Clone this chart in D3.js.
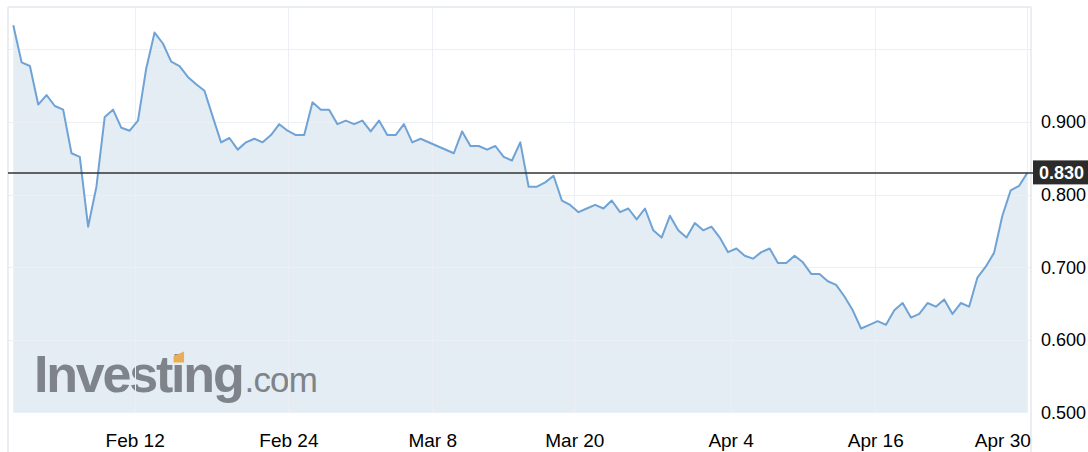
<!DOCTYPE html>
<html>
<head>
<meta charset="utf-8">
<script src="https://cdnjs.cloudflare.com/ajax/libs/d3/7.8.5/d3.min.js"></script>
<style>
  html, body { margin: 0; padding: 0; background: #fff; }
  svg { display: block; font-family: "Liberation Sans", Arial, Helvetica, sans-serif; }
</style>
</head>
<body>
<svg id="chart" width="1088" height="452"></svg>
<script>
// ---- data (sample index -> price); null = no sample at that slot ----
const prices = [
  1.033, 0.982, 0.977, 0.924, 0.937, 0.922, 0.917, 0.857, 0.852, 0.756,
  0.811, 0.907, 0.917, 0.892, 0.888, 0.902, 0.974, 1.023, 1.008, 0.983,
  0.977, 0.962, 0.952, 0.943, 0.907, 0.872, 0.878, 0.862, 0.872, 0.877,
  0.872, 0.882, 0.897, 0.888, 0.882, 0.882, 0.927, 0.917, 0.917, 0.897,
  0.902, 0.897, 0.902, 0.887, 0.902, 0.882, 0.882, 0.897, 0.872, 0.877,
  null,  null,  null,  0.857, 0.887, 0.867, 0.867, 0.862, 0.867, 0.852,
  0.847, 0.872, 0.811, 0.811, 0.817, 0.826, 0.792, 0.786, 0.776, 0.781,
  0.786, 0.781, 0.792, 0.776, 0.781, 0.766, 0.781, 0.751, 0.741, 0.771,
  0.751, 0.741, 0.761, 0.751, 0.756, 0.741, 0.721, 0.726, 0.716, 0.712,
  0.721, 0.726, 0.706, 0.706, 0.716, 0.707, 0.691, 0.691, 0.681, 0.676,
  0.660, 0.641, 0.616, 0.621, 0.626, 0.621, 0.641, 0.651, 0.631, 0.636,
  0.651, 0.646, 0.656, 0.636, 0.651, 0.646, 0.686, 0.701, 0.720, 0.771,
  0.806, 0.812, 0.830
];
const xTickLabels = ["Feb 12", "Feb 24", "Mar 8", "Mar 20", "Apr 4", "Apr 16", "Apr 30"];
const xTickSlots  = [14.6, 33.1, 50.4, 67.5, 86.3, 103.7, 122];
const yTickValues = [0.5, 0.6, 0.7, 0.8, 0.9];
const yGridValues = [0.6, 0.7, 0.8, 0.9, 1.0];
const lastPrice = 0.830;

// ---- layout ----
const svg = d3.select("#chart");
const frame = { left: 8, top: 7, right: 1031, bottom: 452 };
const plotBottom = 412.8;

const x = d3.scaleLinear().domain([0, prices.length - 1]).range([13.3, 1027.3]);
const y = d3.scaleLinear().domain([0.5, 1.0]).range([plotBottom, 49.3]);

const data = prices.map((v, i) => ({ i, v })).filter(d => d.v !== null);

// area fill
const area = d3.area()
  .x(d => x(d.i))
  .y0(plotBottom)
  .y1(d => y(d.v));
svg.append("path")
  .datum(data)
  .attr("d", area)
  .attr("fill", "#e4edf3");

// logo
const logo = svg.append("g").attr("class", "logo");
const logoText = logo.append("text")
  .attr("x", 34)
  .attr("y", 392)
  .attr("fill", "#7f838a")
  .style("font-family", "'Liberation Sans', Arial, sans-serif");
logoText.append("tspan")
  .attr("font-size", 52)
  .attr("font-weight", "bold")
  .attr("letter-spacing", "-2.2")
  .text("Investing");
logoText.append("tspan")
  .attr("font-size", 35)
  .attr("font-weight", "normal")
  .attr("letter-spacing", "-0.8")
  .attr("dx", 2)
  .text(".com");
// orange dot over the second "i"
try {
  const node = logoText.node();
  const sx = node.getStartPositionOfChar(6).x;
  const l = sx + 2.5, r = sx + 13;
  logo.append("polygon")
    .attr("points", [[l, 356], [r, 351.5], [r, 362.5], [l, 362.5]].map(p => p.join(",")).join(" "))
    .attr("fill", "#e9ad55");
} catch (err) {}

// horizontal gridlines
svg.append("g")
  .selectAll("line")
  .data(yGridValues)
  .join("line")
  .attr("x1", frame.left).attr("x2", frame.right)
  .attr("y1", d => Math.round(y(d)) + 0.5).attr("y2", d => Math.round(y(d)) + 0.5)
  .attr("stroke", "#eceff3")
  .attr("stroke-width", 1);

// vertical gridlines
svg.append("g")
  .selectAll("line")
  .data(xTickSlots)
  .join("line")
  .attr("x1", d => Math.round(x(d)) + 0.5).attr("x2", d => Math.round(x(d)) + 0.5)
  .attr("y1", frame.top).attr("y2", plotBottom)
  .attr("stroke", "#eceff3")
  .attr("stroke-width", 1);

// frame
const fr = svg.append("g").attr("stroke", "#e3e7ed").attr("stroke-width", 1.5).attr("fill", "none");
fr.append("line").attr("x1", frame.left).attr("x2", frame.left).attr("y1", frame.top).attr("y2", frame.bottom);
fr.append("line").attr("x1", frame.right).attr("x2", frame.right).attr("y1", frame.top).attr("y2", frame.bottom);
fr.append("line").attr("x1", frame.left).attr("x2", frame.right).attr("y1", frame.top).attr("y2", frame.top);

// price line
const line = d3.line().x(d => x(d.i)).y(d => y(d.v));
svg.append("path")
  .datum(data)
  .attr("d", line)
  .attr("fill", "none")
  .attr("stroke", "#6fa3d6")
  .attr("stroke-width", 2)
  .attr("stroke-linejoin", "round");

// x axis labels
const xAxis = d3.axisBottom(x)
  .tickValues(xTickSlots)
  .tickFormat((d, i) => xTickLabels[i])
  .tickSize(0)
  .tickPadding(0);
const gx = svg.append("g").attr("transform", "translate(0,433)").call(xAxis);
gx.select(".domain").remove();
gx.selectAll("text")
  .attr("dy", 0).attr("y", 14)
  .attr("font-size", 19)
  .attr("fill", "#000")
  .style("font-family", "'Liberation Sans', Arial, sans-serif");
gx.selectAll(".tick").filter((d, i) => i === xTickSlots.length - 1)
  .select("text").attr("text-anchor", "end").attr("x", 3);

// y axis labels
const yAxis = d3.axisRight(y)
  .tickValues(yTickValues)
  .tickFormat(d3.format(".3f"))
  .tickSize(0)
  .tickPadding(0);
const gy = svg.append("g").attr("transform", "translate(1041,0)").call(yAxis);
gy.select(".domain").remove();
gy.selectAll("text")
  .attr("font-size", 18)
  .attr("fill", "#000")
  .style("font-family", "'Liberation Sans', Arial, sans-serif");

// current price line + label
const yl = y(lastPrice);
svg.append("line")
  .attr("x1", frame.left).attr("x2", 1034)
  .attr("y1", yl).attr("y2", yl)
  .attr("stroke", "#333")
  .attr("stroke-width", 1.5);
svg.append("rect")
  .attr("x", 1033).attr("y", yl - 12.5)
  .attr("width", 55).attr("height", 24)
  .attr("fill", "#2b2b2b");
svg.append("text")
  .attr("x", 1039).attr("y", yl)
  .attr("dy", "0.36em")
  .attr("fill", "#fff")
  .attr("font-size", 18)
  .attr("font-weight", "bold")
  .style("font-family", "'Liberation Sans', Arial, sans-serif")
  .text(d3.format(".3f")(lastPrice));
</script>
</body>
</html>
